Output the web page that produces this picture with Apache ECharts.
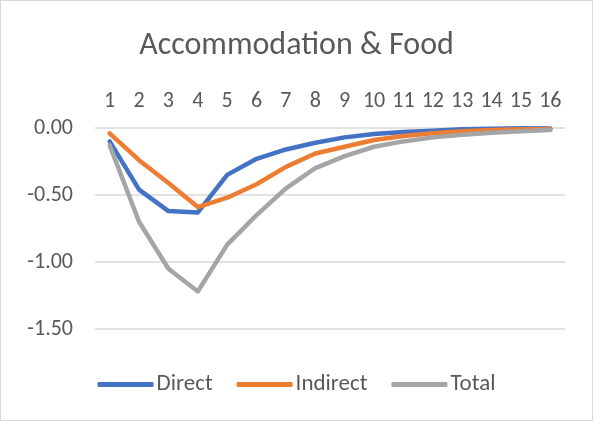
<!DOCTYPE html>
<html>
<head>
<meta charset="utf-8">
<script src="https://cdn.jsdelivr.net/npm/echarts@6/dist/echarts.min.js"></script>
<style>
  html, body { margin: 0; padding: 0; background: #fff; }
  #chart { width: 591px; height: 419px; border: 1px solid #d9d9d9; }
</style>
</head>
<body>
<div id="chart"></div>
<script>
const periods = ['1','2','3','4','5','6','7','8','9','10','11','12','13','14','15','16'];
const direct = [-0.10, -0.46, -0.62, -0.63, -0.35, -0.23, -0.16, -0.11, -0.07, -0.045, -0.03, -0.02, -0.01, -0.005, -0.002, -0.003];
const indirect = [-0.04, -0.24, -0.41, -0.59, -0.52, -0.42, -0.29, -0.19, -0.14, -0.09, -0.06, -0.04, -0.025, -0.015, -0.01, -0.01];
const total = [-0.13, -0.70, -1.05, -1.22, -0.87, -0.65, -0.45, -0.30, -0.21, -0.14, -0.10, -0.07, -0.05, -0.035, -0.025, -0.015];

const chart = echarts.init(document.getElementById('chart'));
const font = 'Carlito, "Liberation Sans", "Open Sans", sans-serif';

function mkLine(name, data, color) {
  return {
    name: name,
    type: 'line',
    data: data,
    symbol: 'none',
    lineStyle: { width: 4.5, color: color, cap: 'round', join: 'round' },
    itemStyle: { color: color }
  };
}

chart.setOption({
  animation: false,
  title: {
    text: 'Accommodation & Food',
    left: 'center',
    top: 24,
    textStyle: { fontFamily: font, fontSize: 32, fontWeight: 'normal', color: '#595959' }
  },
  legend: {
    top: 367,
    left: 'center',
    icon: 'roundRect',
    itemWidth: 56,
    itemHeight: 5,
    itemGap: 24,
    textStyle: { fontFamily: font, fontSize: 23, color: '#595959', padding: [0, 0, 0, -2] },
    data: ['Direct', 'Indirect', 'Total']
  },
  grid: { left: 94, right: 27, top: 127, bottom: 91 },
  xAxis: {
    type: 'category',
    position: 'top',
    data: periods,
    boundaryGap: true,
    axisLine: { show: false },
    axisTick: { show: false },
    axisLabel: { fontFamily: font, fontSize: 22, color: '#595959', margin: 16, interval: 0 }
  },
  yAxis: {
    type: 'value',
    min: -1.5,
    max: 0,
    interval: 0.5,
    axisLine: { show: false },
    axisTick: { show: false },
    axisLabel: {
      fontFamily: font, fontSize: 22, color: '#595959', margin: 22,
      formatter: v => v.toFixed(2)
    },
    splitLine: { lineStyle: { color: '#d9d9d9', width: 1.5 } }
  },
  series: [
    mkLine('Direct', direct, '#4472C4'),
    mkLine('Indirect', indirect, '#ED7D31'),
    mkLine('Total', total, '#A5A5A5')
  ]
});
</script>
</body>
</html>
